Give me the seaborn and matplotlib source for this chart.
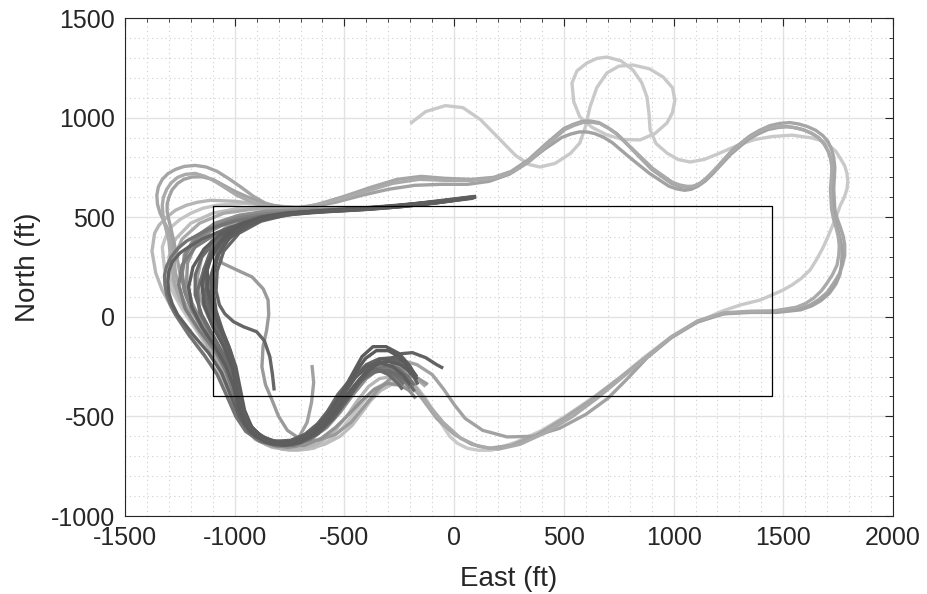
import matplotlib
matplotlib.use("Agg")
import matplotlib.pyplot as plt
import seaborn as sns
import pandas as pd
from matplotlib.ticker import MultipleLocator

# ---- flight tracks (East, North in ft) ----
# wide circuit around the field (lighter gray)
track_c1 = [(-200,970),(-130,1030),(-40,1060),(40,1050),(120,990),(200,900),(280,810),(340,765),(391,752),
            (460,770),(530,820),(573,873),(600,960),(619,1053),(650,1150),(696,1224),(750,1258),(815,1264),
            (890,1245),(952,1204),(995,1150),(1006,1088),(995,1025),(970,973),(915,920),(847,888),(770,890),
            (696,913),(630,950),(573,1003),(545,1080),(537,1174),(560,1235),(605,1274),(650,1297),(696,1304),
            (760,1285),(815,1239),(855,1175),(879,1103),(888,1020),(893,938),(920,870),(970,822),(1020,790),
            (1075,777),(1140,790),(1211,822),(1290,860),(1370,890),(1450,905),(1540,912),(1630,898),(1680,882),
            (1710,860),(1740,830),(1760,795),(1780,758),(1790,720),(1794,680),(1790,640),(1778,600),(1760,560),
            (1742,505),(1722,451),(1702,398),(1680,345),(1652,288),(1622,235),(1582,193),(1540,160),(1500,135),
            (1460,115),(1394,84),(1303,59),(1225,30),(1110,-25),(990,-100),(870,-200),(760,-300),(640,-400),
            (520,-490),(400,-570),(280,-630),(170,-670),(110,-670),(60,-660),(15,-635),(-20,-600),(-80,-500),
            (-130,-410),(-180,-340),(-230,-300)]

track_b1 = [(-330,-240),(-260,-270),(-200,-330),(-140,-420),(-80,-510),(0,-590),(80,-640),(160,-660),(260,-645),
            (380,-590),(500,-510),(620,-420),(740,-320),(860,-215),(980,-110),(1100,-30),(1220,15),(1340,25),
            (1460,25),(1570,40),(1620,58),(1660,85),(1700,122),(1730,170),(1755,215),(1770,260),(1780,310),
            (1780,360),(1773,405),(1760,450),(1745,495),(1735,540),(1730,640),(1735,750),(1730,800),(1720,840),
            (1705,878),(1680,910),(1648,936),(1610,955),(1570,968),(1530,975),(1485,971),(1440,960),(1395,938),
            (1350,910),(1270,840),(1190,740),(1150,695),(1120,670),(1090,655),(1060,650),(1025,655),(990,670),
            (900,740),(820,830),(740,920),(700,950),(660,975),(620,983),(580,980),(540,965),(500,945),(420,870),
            (340,790),(260,730),(180,700),(80,690),(-40,695),(-150,705),(-260,690),(-380,650),(-500,605),
            (-620,565),(-680,550),(-740,545),(-800,552),(-860,570),(-915,605),(-970,650),(-1025,692),(-1080,730),
            (-1130,752),(-1180,760),(-1230,755),(-1270,740),(-1305,718),(-1330,690),(-1348,652),(-1355,610),
            (-1352,565),(-1340,520),(-1320,475),(-1300,430),(-1280,330),(-1270,220),(-1240,100),(-1190,-20),
            (-1120,-140),(-1060,-260),(-1020,-380),(-980,-490),(-930,-580),(-860,-635),(-780,-650),(-700,-630),
            (-620,-580),(-550,-500),(-490,-400),(-430,-310),(-370,-260)]

track_b2 = [(-250,-215),(-170,-240),(-100,-290),(-50,-360),(0,-440),(50,-510),(130,-570),(241,-603),(360,-600),
            (480,-560),(600,-490),(700,-410),(790,-310),(880,-205),(990,-105),(1110,-25),(1230,15),(1350,22),
            (1470,22),(1580,35),(1630,55),(1670,80),(1710,118),(1740,165),(1758,212),(1765,260),(1768,310),
            (1765,360),(1757,405),(1745,450),(1733,495),(1725,540),(1720,640),(1722,750),(1717,792),(1705,830),
            (1688,865),(1665,895),(1635,918),(1600,935),(1560,948),(1520,955),(1475,950),(1430,940),(1385,918),
            (1340,890),(1260,815),(1180,720),(1145,682),(1110,655),(1080,640),(1050,635),(1015,642),(980,655),
            (890,720),(800,800),(720,875),(680,902),(640,920),(605,928),(570,928),(530,917),(490,900),(410,840),
            (330,770),(250,715),(160,680),(60,665),(-60,665),(-180,660),(-300,640),(-420,610),(-540,575),
            (-660,550),(-720,548),(-780,550),(-840,562),(-890,580),(-945,603),(-1000,630),(-1050,660),(-1100,690),
            (-1150,703),(-1195,702),(-1232,690),(-1260,670),(-1285,638),(-1300,600),(-1308,565),(-1308,530),
            (-1300,485),(-1290,440),(-1270,340),(-1250,220),(-1220,100),(-1170,-20),(-1110,-130),(-1050,-240),
            (-1005,-360),(-965,-470),(-915,-565),(-850,-625),(-770,-645),(-690,-625),(-615,-575),(-550,-495),
            (-495,-410),(-440,-330),(-390,-280)]

track_b3 = [(-300,-250),(-230,-290),(-170,-360),(-110,-450),(-50,-530),(30,-610),(110,-650),(200,-665),(300,-640),
            (420,-580),(540,-500),(650,-410),(760,-310),(870,-210),(990,-100),(1110,-20),(1230,20),(1350,28),
            (1460,30),(1560,48),(1603,68),(1640,95),(1673,130),(1700,170),(1725,213),(1745,260),(1753,310),
            (1755,360),(1750,405),(1740,450),(1728,495),(1720,540),(1715,640),(1722,745),(1717,790),(1705,830),
            (1686,868),(1660,900),(1627,922),(1590,940),(1550,950),(1510,955),(1465,953),(1420,945),(1380,925),
            (1340,900),(1260,825),(1180,730),(1145,692),(1115,665),(1088,655),(1060,655),(1028,662),(995,675),
            (905,745),(825,830),(745,915),(705,945),(665,970),(625,977),(585,975),(545,960),(505,940),(425,865),
            (345,785),(265,725),(180,695),(80,685),(-40,685),(-160,690),(-280,670),(-400,630),(-520,590),
            (-640,560),(-700,550),(-760,545),(-820,550),(-880,560),(-935,582),(-990,610),(-1040,645),(-1090,680),
            (-1135,705),(-1180,720),(-1225,715),(-1260,700),(-1290,672),(-1310,640),(-1325,600),(-1330,560),
            (-1327,515),(-1320,470),(-1300,380),(-1290,270),(-1270,150),(-1220,30),(-1150,-90),(-1080,-210),
            (-1030,-330),(-990,-440),(-950,-540),(-890,-605),(-820,-640),(-740,-650),(-660,-620),(-590,-560),
            (-530,-480),(-470,-390),(-410,-310)]

# approach tracks turning at the west end
track_a1 = [(100,605),(-50,585),(-200,565),(-350,545),(-500,535),(-650,528),(-780,515),(-880,490),(-960,450),
            (-1030,390),(-1075,310),(-1095,220),(-1098,130),(-1085,30),(-1055,-70),(-1020,-170),(-995,-270),
            (-980,-370),(-962,-470),(-930,-555),(-880,-610),(-815,-635),(-745,-630),(-675,-600),(-610,-545),
            (-550,-465),(-500,-385),(-450,-305),(-400,-250),(-340,-230),(-280,-250),(-230,-295),(-200,-340)]
track_a2 = [(95,600),(-60,575),(-220,555),(-380,540),(-540,530),(-700,522),(-820,505),(-930,465),(-1020,400),
            (-1080,310),(-1110,200),(-1105,90),(-1075,-30),(-1030,-140),(-995,-250),(-975,-360),(-955,-470),
            (-920,-560),(-860,-615),(-790,-635),(-710,-625),(-640,-590),(-570,-520),(-510,-430),(-450,-340),
            (-390,-260),(-330,-210),(-270,-205),(-210,-240),(-170,-300)]
track_a3 = [(90,598),(-80,572),(-250,552),(-420,538),(-580,528),(-730,515),(-880,490),(-1020,450),(-1150,390),
            (-1210,350),(-1250,320),(-1285,275),(-1300,230),(-1305,175),(-1300,120),(-1285,65),(-1260,10),
            (-1190,-90),(-1120,-180),(-1060,-280),(-1020,-390),(-980,-500),(-930,-580),(-860,-630),(-780,-645),
            (-700,-630),(-620,-585),(-550,-510),(-490,-420),(-430,-330),(-370,-250),(-300,-215),(-240,-185),
            (-190,-180),(-130,-205),(-80,-240),(-50,-258)]
track_a4 = [(85,595),(-100,570),(-280,550),(-450,537),(-620,527),(-760,512),(-880,480),(-980,420),(-1050,330),
            (-1080,230),(-1085,130),(-1070,60),(-1045,15),(-1005,-25),(-960,-50),(-900,-75),(-865,-120),
            (-840,-200),(-828,-290),(-820,-370)]
track_a5 = [(100,603),(-70,578),(-240,558),(-400,543),(-560,532),(-720,522),(-850,505),(-960,470),(-1050,410),
            (-1110,330),(-1140,240),(-1145,150),(-1125,50),(-1085,-50),(-1040,-150),(-1005,-250),(-985,-350),
            (-968,-450),(-940,-540),(-890,-600),(-825,-630),(-755,-628),(-690,-600),(-630,-550),(-580,-480),
            (-530,-390),(-470,-310),(-410,-270),(-350,-265),(-300,-290),(-260,-330),(-235,-365)]
track_a6 = [(98,602),(-90,575),(-260,556),(-430,540),(-600,530),(-740,520),(-860,495),(-970,450),(-1060,375),
            (-1120,280),(-1150,170),(-1140,60),(-1100,-50),(-1050,-150),(-1010,-260),(-990,-370),(-970,-470),
            (-935,-555),(-880,-610),(-810,-635),(-730,-625),(-650,-580),(-580,-500),(-520,-400),(-470,-300),
            (-420,-200),(-370,-150),(-310,-150),(-250,-185),(-200,-250),(-170,-315)]
track_a7 = [(80,598),(-100,572),(-270,553),(-440,539),(-610,529),(-760,515),(-900,480),(-1000,420),(-1080,340),
            (-1140,240),(-1170,130),(-1160,20),(-1110,-80),(-1060,-180),(-1020,-290),(-995,-400),(-960,-500),
            (-910,-575),(-840,-620),(-760,-630),(-690,-610),(-620,-560),(-560,-490),(-500,-410),(-440,-330),
            (-380,-280),(-320,-270),(-270,-295),(-230,-340)]
track_a8 = [(-400,545),(-560,535),(-700,525),(-830,505),(-960,470),(-1080,420),(-1180,350),(-1240,260),
            (-1255,160),(-1225,40),(-1160,-70),(-1090,-170),(-1040,-270),(-1005,-380),(-970,-480),(-925,-565),
            (-860,-615),(-790,-635),(-720,-625),(-650,-590),(-590,-530),(-530,-450),(-470,-370),(-410,-300),
            (-350,-260),(-290,-260),(-240,-290),(-200,-340)]
track_a9 = [(-450,545),(-600,540),(-740,535),(-860,530),(-980,510),(-1090,470),(-1180,400),(-1230,310),
            (-1240,200),(-1215,90),(-1160,-20),(-1100,-130),(-1050,-240),(-1010,-350),(-975,-460),(-935,-550),
            (-880,-610),(-810,-640),(-730,-640),(-650,-610),(-580,-555),(-520,-480),(-460,-390),(-400,-310),
            (-340,-260),(-280,-245),(-220,-265),(-170,-300)]
track_a10 = [(-500,540),(-650,535),(-780,525),(-900,505),(-1000,460),(-1060,390),(-1080,320),(-1058,270),
             (-990,235),(-921,200),(-870,140),(-848,84),(-845,10),(-855,-70),(-871,-150),(-876,-252),(-860,-340),
             (-830,-418),(-800,-500),(-760,-570),(-700,-615),(-620,-620),(-540,-590),(-470,-530),(-410,-450),
             (-350,-370),(-290,-310),(-230,-290),(-170,-305),(-120,-340)]
track_a11 = [(-600,540),(-750,550),(-880,565),(-1000,580),(-1110,585),(-1170,575),(-1220,560),(-1270,535),
             (-1310,500),(-1345,460),(-1365,420),(-1377,330),(-1360,220),(-1331,135),(-1280,30),(-1230,-50),
             (-1170,-150),(-1100,-250),(-1044,-333),(-1000,-430),(-960,-520),(-920,-590),(-860,-640),(-780,-665),
             (-700,-665),(-620,-635),(-550,-580),(-490,-500),(-440,-420),(-390,-350),(-340,-310),(-280,-300),
             (-230,-320),(-190,-360)]
track_a12 = [(-650,545),(-800,555),(-950,570),(-1080,560),(-1145,545),(-1200,520),(-1250,488),(-1290,450),
             (-1315,400),(-1330,350),(-1320,240),(-1290,140),(-1240,40),(-1180,-60),(-1120,-160),(-1070,-270),
             (-1030,-390),(-990,-490),(-945,-570),(-880,-625),(-800,-655),(-720,-670),(-640,-660),(-570,-620),
             (-510,-560),(-460,-490),(-410,-420),(-360,-360),(-300,-325),(-240,-330),(-190,-360),(-150,-400)]
track_a13 = [(-550,540),(-700,540),(-830,530),(-940,505),(-1030,460),(-1100,390),(-1150,300),(-1170,200),
             (-1160,100),(-1120,0),(-1070,-100),(-1030,-210),(-1000,-320),(-975,-430),(-945,-530),(-900,-600),
             (-840,-640),(-770,-650),(-710,-610),(-670,-530),(-650,-430),(-640,-330),(-648,-242)]
track_a14 = [(60,595),(-120,568),(-300,550),(-470,537),(-640,527),(-790,512),(-910,485),(-1010,440),(-1090,380),
             (-1150,300),(-1180,210),(-1180,110),(-1150,10),(-1100,-90),(-1050,-190),(-1012,-290),(-990,-390),
             (-968,-480),(-930,-560),(-875,-615),(-805,-640),(-730,-635),(-660,-600),(-600,-545),(-540,-465),
             (-480,-385),(-420,-315),(-360,-275),(-300,-270),(-250,-295),(-205,-335),(-180,-375)]
track_a15 = [(70,600),(-110,574),(-290,555),(-460,541),(-630,531),(-770,520),(-880,500),(-980,465),(-1070,410),
             (-1140,340),(-1190,250),(-1210,150),(-1195,50),(-1150,-50),(-1090,-150),(-1040,-250),(-1005,-350),
             (-985,-450),(-955,-540),(-905,-600),(-840,-635),(-770,-645),(-700,-630),(-635,-590),(-575,-525),
             (-520,-445),(-465,-360),(-410,-290),(-355,-240),(-300,-225),(-245,-240),(-200,-275),(-170,-310)]
track_a16 = [(100,600),(-80,578),(-260,560),(-430,545),(-600,533),(-750,520),(-870,500),(-970,460),(-1050,400),
             (-1105,320),(-1130,230),(-1130,140),(-1110,40),(-1070,-60),(-1030,-160),(-1000,-260),(-982,-360),
             (-962,-460),(-930,-545),(-880,-600),(-815,-625),(-745,-620),(-680,-590),(-620,-535),(-565,-460),
             (-510,-380),(-455,-300),(-400,-240),(-340,-210),(-280,-215),(-225,-250),(-185,-300),(-165,-340)]
track_a17 = [(75,597),(-100,574),(-280,556),(-450,542),(-620,532),(-760,522),(-880,505),(-1000,480),(-1120,440),
             (-1220,380),(-1260,342),(-1290,300),(-1310,255),(-1320,210),(-1318,160),(-1310,110),(-1293,60),
             (-1270,10),(-1210,-90),(-1140,-190),(-1080,-290),(-1035,-400),(-995,-500),(-950,-575),(-885,-625),
             (-810,-648),(-735,-645),(-660,-615),(-595,-560),(-535,-485),(-480,-400),(-425,-320),(-370,-265),
             (-310,-245),(-255,-260),(-210,-300),(-180,-345)]
track_a18 = [(-300,552),(-460,542),(-620,534),(-760,526),(-880,515),(-990,495),(-1090,455),(-1170,395),
             (-1220,320),(-1240,230),(-1230,130),(-1195,30),(-1140,-70),(-1085,-170),(-1040,-275),(-1005,-385),
             (-975,-485),(-935,-565),(-875,-620),(-805,-645),(-730,-645),(-655,-615),(-590,-560),(-535,-490),
             (-485,-410),(-435,-335),(-385,-285),(-330,-265),(-275,-280),(-230,-320),(-200,-360)]
track_a19 = [(95,602),(-70,580),(-240,560),(-410,545),(-580,533),(-730,522),(-860,502),(-965,465),(-1045,405),
             (-1100,325),(-1125,235),(-1122,140),(-1100,40),(-1062,-60),(-1025,-160),(-998,-260),(-980,-360),
             (-960,-460),(-928,-548),(-875,-605),(-808,-632),(-735,-628),(-665,-595),(-600,-535),(-545,-455),
             (-495,-365),(-450,-280),(-405,-210),(-355,-170),(-300,-170),(-250,-200),(-215,-245),(-195,-290)]
track_a20 = [(-350,548),(-500,540),(-650,533),(-790,525),(-910,510),(-1020,480),(-1110,430),(-1180,360),
             (-1215,270),(-1220,170),(-1195,70),(-1150,-30),(-1095,-130),(-1050,-235),(-1015,-345),(-990,-455),
             (-955,-545),(-905,-605),(-835,-640),(-760,-655),(-680,-645),(-605,-610),(-540,-555),(-480,-490),
             (-420,-420),(-365,-365),(-305,-335),(-250,-340),(-205,-370),(-175,-410)]
track_a21 = [(-700,540),(-850,550),(-980,545),(-1100,520),(-1200,470),(-1270,390),(-1300,300),(-1295,200),
             (-1260,100),(-1200,-10),(-1130,-120),(-1075,-230),(-1035,-340),(-1000,-450),(-960,-545),(-905,-615),
             (-830,-655),(-750,-670),(-670,-665),(-590,-640),(-520,-600),(-465,-545),(-420,-480),(-380,-420),
             (-335,-370),(-285,-340),(-235,-345),(-195,-375)]
track_a22 = [(-620,545),(-780,545),(-920,540),(-1050,520),(-1160,470),(-1240,390),(-1280,290),(-1280,190),
             (-1250,90),(-1195,-20),(-1130,-130),(-1075,-240),(-1035,-350),(-1000,-460),(-960,-550),(-905,-615),
             (-835,-650),(-760,-660),(-690,-640),(-630,-595),(-575,-530),(-525,-450),(-470,-370),(-415,-300),
             (-355,-255),(-290,-245),(-225,-270),(-170,-310),(-130,-350)]

# drawing order (back to front) and gray level of each track
tracks = [
    ("c1", track_c1, "#c9c9c9"),
    ("a12", track_a12, "#c4c4c4"),
    ("a21", track_a21, "#bdbdbd"),
    ("a11", track_a11, "#b6b6b6"),
    ("b1", track_b1, "#a6a6a6"),
    ("b2", track_b2, "#a2a2a2"),
    ("b3", track_b3, "#aaaaaa"),
    ("a22", track_a22, "#a9a9a9"),
    ("a13", track_a13, "#a0a0a0"),
    ("a10", track_a10, "#9a9a9a"),
    ("a20", track_a20, "#929292"),
    ("a9", track_a9, "#8e8e8e"),
    ("a18", track_a18, "#828282"),
    ("a8", track_a8, "#7c7c7c"),
    ("a17", track_a17, "#747474"),
    ("a7", track_a7, "#717171"),
    ("a14", track_a14, "#6c6c6c"),
    ("a4", track_a4, "#666666"),
    ("a3", track_a3, "#626262"),
    ("a5", track_a5, "#6a6a6a"),
    ("a16", track_a16, "#646464"),
    ("a2", track_a2, "#606060"),
    ("a15", track_a15, "#5d5d5d"),
    ("a19", track_a19, "#5b5b5b"),
    ("a6", track_a6, "#5c5c5c"),
    ("a1", track_a1, "#5e5e5e"),
]

# survey box
box_east = [-1100, 1450, 1450, -1100, -1100]
box_north = [-400, -400, 555, 555, -400]

sns.set_theme(style="white")
plt.rcParams["font.family"] = ["Liberation Sans", "DejaVu Sans"]
plt.rcParams["axes.unicode_minus"] = False

fig = plt.figure(figsize=(9.28, 5.94), dpi=100)
ax = fig.add_axes([125 / 928, 1 - 516 / 594, 768 / 928, 498 / 594])

for name, pts, col in tracks:
    df = pd.DataFrame(pts, columns=["East", "North"])
    sns.lineplot(data=df, x="East", y="North", sort=False, estimator=None,
                 color=col, lw=2.4, ax=ax, solid_joinstyle="round", solid_capstyle="butt")

ax.plot(box_east, box_north, color="black", lw=0.9, zorder=3)

ax.set_xlim(-1500, 2000)
ax.set_ylim(-1000, 1500)
ax.xaxis.set_major_locator(MultipleLocator(500))
ax.yaxis.set_major_locator(MultipleLocator(500))
ax.xaxis.set_minor_locator(MultipleLocator(100))
ax.yaxis.set_minor_locator(MultipleLocator(100))
ax.set_axisbelow(True)
ax.grid(which="major", color="#e2e2e2", lw=1.0, ls="-")
ax.grid(which="minor", color="#cfcfcf", lw=0.8, ls=(0, (1, 3)))

ax.tick_params(which="both", direction="in", top=True, right=True, colors="#262626",
               labelsize=18, pad=7)
ax.tick_params(which="major", length=6, width=0.8)
ax.tick_params(which="minor", length=3, width=0.6)
for s in ax.spines.values():
    s.set_color("#262626")
    s.set_linewidth(0.8)

ax.set_xlabel("East (ft)", fontsize=20, color="#262626", labelpad=12)
ax.set_ylabel("North (ft)", fontsize=20, color="#262626", labelpad=7)

fig.savefig("out.png", dpi=100)
